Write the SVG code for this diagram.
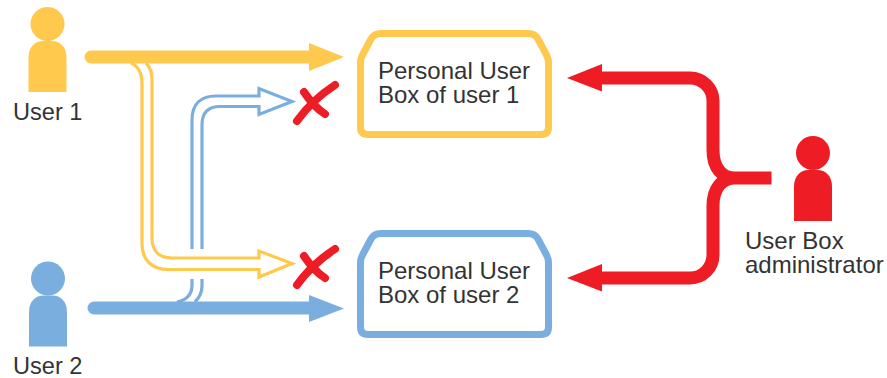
<svg xmlns="http://www.w3.org/2000/svg" width="887" height="378" viewBox="0 0 887 378">
<style>
text{font-family:"Liberation Sans",Arial,sans-serif;font-size:24px;fill:#333}
.u{font-size:23.6px}
.y{fill:#FFC94D}.b{fill:#7AAEDE}.r{fill:#EE1C25}
.ys{stroke:#FFC94D}.bs{stroke:#7AAEDE}.rs{stroke:#EE1C25}
.thick{fill:none;stroke-width:13}
.thin{fill:none;stroke-width:3.2;stroke-linejoin:miter}
.box{fill:#fff;stroke-width:7;stroke-linejoin:round}
.x{fill:none;stroke:#EE1C25;stroke-width:8;stroke-linecap:round}
</style>
<defs>
<g id="person"><circle cx="0" cy="0" r="17"/><path d="M-19 68V34C-19 23 -13 17 -4 17H4C13 17 19 23 19 34V68Z"/></g>
<path id="boxshape" d="M360.500 63Q360.500 59 362 56L371 39Q374 33.500 381 33.500H528Q535 33.500 538 39L547 56Q548.500 59 548.500 63V127Q548.500 134.500 541 134.500H368Q360.500 134.500 360.500 127Z"/>
</defs>
<g id="connectors">
<path class="thin ys" d="M131 63C138 66 142 72 142 84V244C142 260 152 269.500 168 269.500H259V277L292 263.500L259 251V258H172C159 258 152 251 152 238V80C152 72 150 67 146 63"/>
<path class="thin bs" d="M192 249V120C192 104 201 96 216 96H259V88.500L292 101.500L259 114.500V106.500H220C208 106.500 202 113 202 125V249"/>
<path class="thin bs" d="M192 279V285C192 295 187 300 177 302M202 279V286C202 293 199 298 195 302"/>
<path class="thick ys" stroke-linecap="round" d="M91 57H312"/>
<polygon class="y" points="309,43 344,57 309,71"/>
<path class="thick bs" stroke-linecap="round" d="M94 308H312"/>
<polygon class="b" points="309,295 344,308.500 309,322"/>
<path class="thick rs" d="M600 78H690A23 23 0 0 1 713 101V150C713 168 722 178 735 178H771.500M600 278H690A23 23 0 0 0 713 255V206C713 188 722 178 735 178"/>
<polygon class="r" points="567,78 602,64 602,91.500"/>
<polygon class="r" points="567,278 602,264 602,291.500"/>
<path class="x" d="M335 85Q312 100 297 121M304 92Q314 107 325 114"/>
<path class="x" d="M335 249Q312 264 297 285M304 256Q314 271 325 278"/>
</g>
<g id="user1" class="y"><use href="#person" x="47.500" y="24"/><text class="u" x="13" y="120">User 1</text></g>
<g id="user2" class="b"><use href="#person" x="48" y="278.500"/><text class="u" x="13" y="374">User 2</text></g>
<g id="admin" class="r"><use href="#person" x="813" y="153"/><text x="745" y="249">User Box</text><text x="745" y="273">administrator</text></g>
<g id="box1"><use href="#boxshape" class="box ys"/><text x="378" y="79">Personal User</text><text x="378" y="103">Box of user 1</text></g>
<g id="box2"><use href="#boxshape" class="box bs" y="200"/><text x="378" y="279">Personal User</text><text x="378" y="303">Box of user 2</text></g>
</svg>
